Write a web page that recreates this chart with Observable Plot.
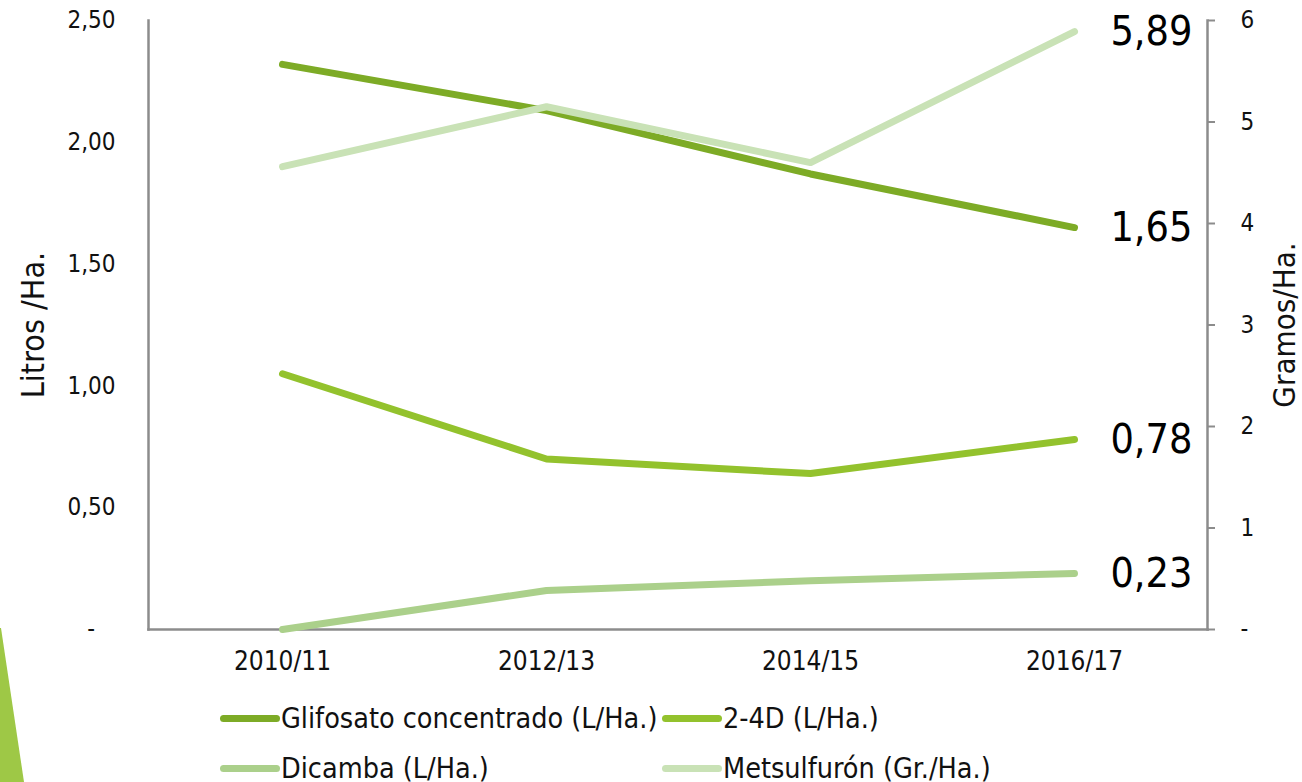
<!DOCTYPE html>
<html>
<head>
<meta charset="utf-8">
<script src="https://cdn.jsdelivr.net/npm/d3@7"></script>
<script src="https://cdn.jsdelivr.net/npm/@observablehq/plot@0.6"></script>
<style>
  html, body { margin: 0; padding: 0; background: #fff; }
  body { width: 1302px; height: 782px; position: relative; overflow: hidden;
         font-family: "DejaVu Sans Condensed", "DejaVu Sans", sans-serif; font-stretch: condensed; }
  #chart { position: absolute; left: 0; top: 0; }
  #wedge { position: absolute; left: 0; top: 628px; width: 24px; height: 154px; background: #9ec846;
           clip-path: polygon(0 0, 1px 0, 100% 100%, 0 100%); }
  #legend { position: absolute; left: 220px; top: 700px; width: 1000px; color: #111;
            display: grid; grid-template-columns: 442px 450px; row-gap: 14px; font-size: 28.5px; }
  .item { display: flex; align-items: center; height: 36px; white-space: nowrap; }
  .sw { width: 60px; height: 7px; border-radius: 4px; margin-right: 1px; flex: none; }
</style>
</head>
<body>
<div id="wedge"></div>
<div id="chart"></div>
<div id="legend"></div>
<script>
// ---- data ----
const periods = ["2010/11", "2012/13", "2014/15", "2016/17"];
const glifosato = [2.32, 2.13, 1.87, 1.65];      // L/Ha.
const dosCuatroD = [1.05, 0.70, 0.64, 0.78];     // L/Ha.
const dicamba = [0.00, 0.16, 0.20, 0.23];        // L/Ha.
const metsulfuron = [4.56, 5.15, 4.60, 5.89];    // Gr./Ha. (right axis)
const seriesNames = ["Glifosato concentrado (L/Ha.)", "2-4D (L/Ha.)", "Dicamba (L/Ha.)", "Metsulfurón (Gr./Ha.)"];
const seriesColors = ["#7dab26", "#93c22d", "#abd08b", "#c9e2b6"];
const leftTicks = [0, 0.5, 1, 1.5, 2, 2.5];
const rightTicks = [0, 1, 2, 3, 4, 5, 6];
const leftMax = 2.5, rightMax = 6;

// ---- build table ----
const toLeft = v => v * leftMax / rightMax;
const seriesValues = [glifosato, dosCuatroD, dicamba, metsulfuron];
const rows = [];
seriesValues.forEach((vals, s) => {
  vals.forEach((v, i) => rows.push({
    series: seriesNames[s], period: periods[i], value: v,
    y: s === 3 ? toLeft(v) : v
  }));
});
const lastRows = rows.filter(d => d.period === periods[periods.length - 1]);
const fmt = v => v.toFixed(2).replace(".", ",");

const gray = "#8c8c8c";
const chart = Plot.plot({
  width: 1302,
  height: 680,
  marginLeft: 148,
  marginRight: 95,
  marginTop: 20,
  marginBottom: 51,
  style: { fontFamily: "'DejaVu Sans Condensed', 'DejaVu Sans', sans-serif", fontSize: "24px", color: "#111", background: "transparent" },
  x: { type: "point", domain: periods, padding: 0.5, axis: null },
  y: { domain: [0, leftMax], axis: null },
  color: { domain: seriesNames, range: seriesColors },
  marks: [
    Plot.axisX({ tickSize: 0, tickPadding: 22, fontSize: 26, label: null }),
    Plot.axisY(leftTicks, { anchor: "left", tickSize: 0, tickPadding: 33, fontSize: 24, label: null,
      tickFormat: d => d === 0 ? "-\u00a0\u00a0\u00a0" : fmt(d) }),
    Plot.axisY(rightTicks.map(toLeft), { anchor: "right", tickSize: 7, tickPadding: 26, fontSize: 24, label: null,
      stroke: gray, strokeWidth: 2,
      tickFormat: (d, i) => rightTicks[i] === 0 ? "-" : String(rightTicks[i]) }),
    Plot.frame({ anchor: "left", stroke: gray, strokeWidth: 2.5 }),
    Plot.frame({ anchor: "right", stroke: gray, strokeWidth: 2.5 }),
    Plot.frame({ anchor: "bottom", stroke: gray, strokeWidth: 2.5 }),
    Plot.text(["Litros /Ha."], { frameAnchor: "left", textAnchor: "middle", dx: -115, rotate: -90, fontSize: 32, fill: "#111" }),
    Plot.text(["Gramos/Ha."], { frameAnchor: "right", textAnchor: "middle", dx: 78, rotate: -90, fontSize: 31, fill: "#111" }),
    Plot.line(rows, { x: "period", y: "y", z: "series", stroke: "series", strokeWidth: 7,
      strokeLinecap: "round", strokeLinejoin: "round" }),
    Plot.text(lastRows, { x: "period", y: "y", text: d => fmt(d.value), textAnchor: "end", dx: 118,
      fontSize: 41, fill: "#000" })
  ]
});
document.getElementById("chart").appendChild(chart);

// ---- legend ----
const legend = document.getElementById("legend");
seriesNames.forEach((name, i) => {
  const item = document.createElement("div");
  item.className = "item";
  const sw = document.createElement("span");
  sw.className = "sw";
  sw.style.background = seriesColors[i];
  const label = document.createElement("span");
  label.textContent = name;
  item.appendChild(sw);
  item.appendChild(label);
  legend.appendChild(item);
});
</script>
</body>
</html>
